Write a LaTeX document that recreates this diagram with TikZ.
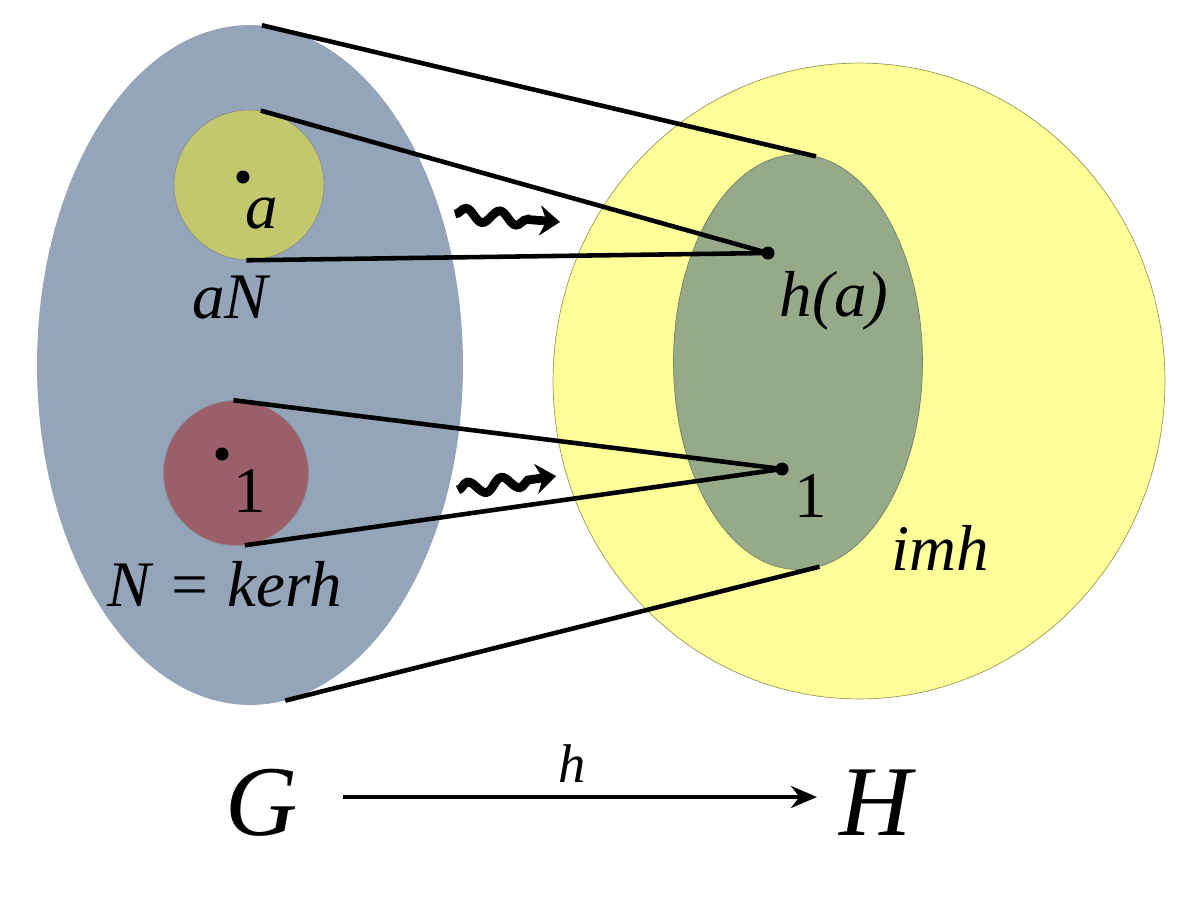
\documentclass[tikz,border=0pt]{standalone}
\usepackage{fontspec}
\setmainfont{Liberation Serif}
\usetikzlibrary{positioning,shapes.geometric,arrows.meta,decorations.pathmorphing}
\definecolor{gset}{HTML}{94A4B9}
\definecolor{coset}{HTML}{C3C76E}
\definecolor{kerset}{HTML}{9B5E6B}
\definecolor{hset}{HTML}{FFFF99}
\definecolor{imset}{HTML}{96AA8A}
\begin{document}
\begin{tikzpicture}[x=0.02cm,y=-0.02cm, dot/.style={fill=black,circle,minimum size=0.26cm,inner sep=0pt},set/.style={ellipse,inner sep=0pt},lab/.style={anchor=base,font=\fontsize{37}{40}\selectfont\itshape},lnk/.style={line width=2.6pt},squig/.style={line width=5pt,decorate,decoration={snake,segment length=0.68cm,amplitude=0.13cm,post length=0.35cm},-{Stealth[length=0.4cm,width=0.6cm]}}]
              \useasboundingbox[fill=white] (0,0) rectangle (1200,900);
              \node[set,fill=gset,minimum width=8.52cm,minimum height=13.6cm] (G) at (250,365) {};
              \node[set,fill=coset,draw=black!45,minimum width=3cm,minimum height=3cm] (aN) at (249,185) {};
              \node[set,fill=kerset,draw=black!45,minimum width=2.9cm,minimum height=2.9cm] (N) at (236,473) {};
              \node[set,fill=hset,draw=black!40!hset,minimum width=12.24cm,minimum height=12.72cm] (H) at (859,381) {};
              \node[set,fill=imset,draw=black!25!imset,minimum width=4.98cm,minimum height=8.3cm] (imh) at (798,362) {};

              \node[dot] (a) at (243,177) {};
              \node[dot] (e) at (222,454) {};
              \node[dot] (ha) at (768,253) {};
              \node[dot] (he) at (782,469) {};

              \draw[lnk] (G.88) -- (imh.85);
              \draw[lnk] (aN.81) -- (ha.center);
              \draw[lnk] (aN.268) -- (ha.center);
              \draw[lnk] (N.92) -- (he.center);
              \draw[lnk] (N.277) -- (he.center);
              \draw[lnk] (G.276) -- (imh.276);

              \coordinate (s1) at (455,214);
              \coordinate (t1) at (560,222);
              \coordinate (s2) at (458,490);
              \coordinate (t2) at (556,476);
              \draw[squig] (s1) -- (t1);
              \draw[squig] (s2) -- (t2);

              \node[lab] (la) at (262,228) {a};
              \node[lab] (laN) at (230,318) {aN};
              \node[lab,font=\fontsize{37}{40}\selectfont] (le) at (250,512) {1};
              \node[lab] (lker) at (225,606) {N = kerh};
              \node[lab] (lha) at (834,316) {h(a)};
              \node[lab,font=\fontsize{37}{40}\selectfont] (lhe) at (811,517) {1};
              \node[lab] (lim) at (940,570) {imh};

              \node[lab,font=\fontsize{57}{60}\selectfont\itshape] (lG) at (262,835) {G};
              \node[lab,font=\fontsize{57}{60}\selectfont\itshape] (lH) at (876,835) {H};
              \coordinate (p) at (343,797);
              \coordinate (q) at (817,797);
              \draw[line width=2.5pt,-{Stealth[length=0.52cm,width=0.44cm]}] (p) -- (q);
              \node[lab,font=\fontsize{31}{34}\selectfont\itshape] (lh) at (572,782) {h};
            \end{tikzpicture}
\end{document}
